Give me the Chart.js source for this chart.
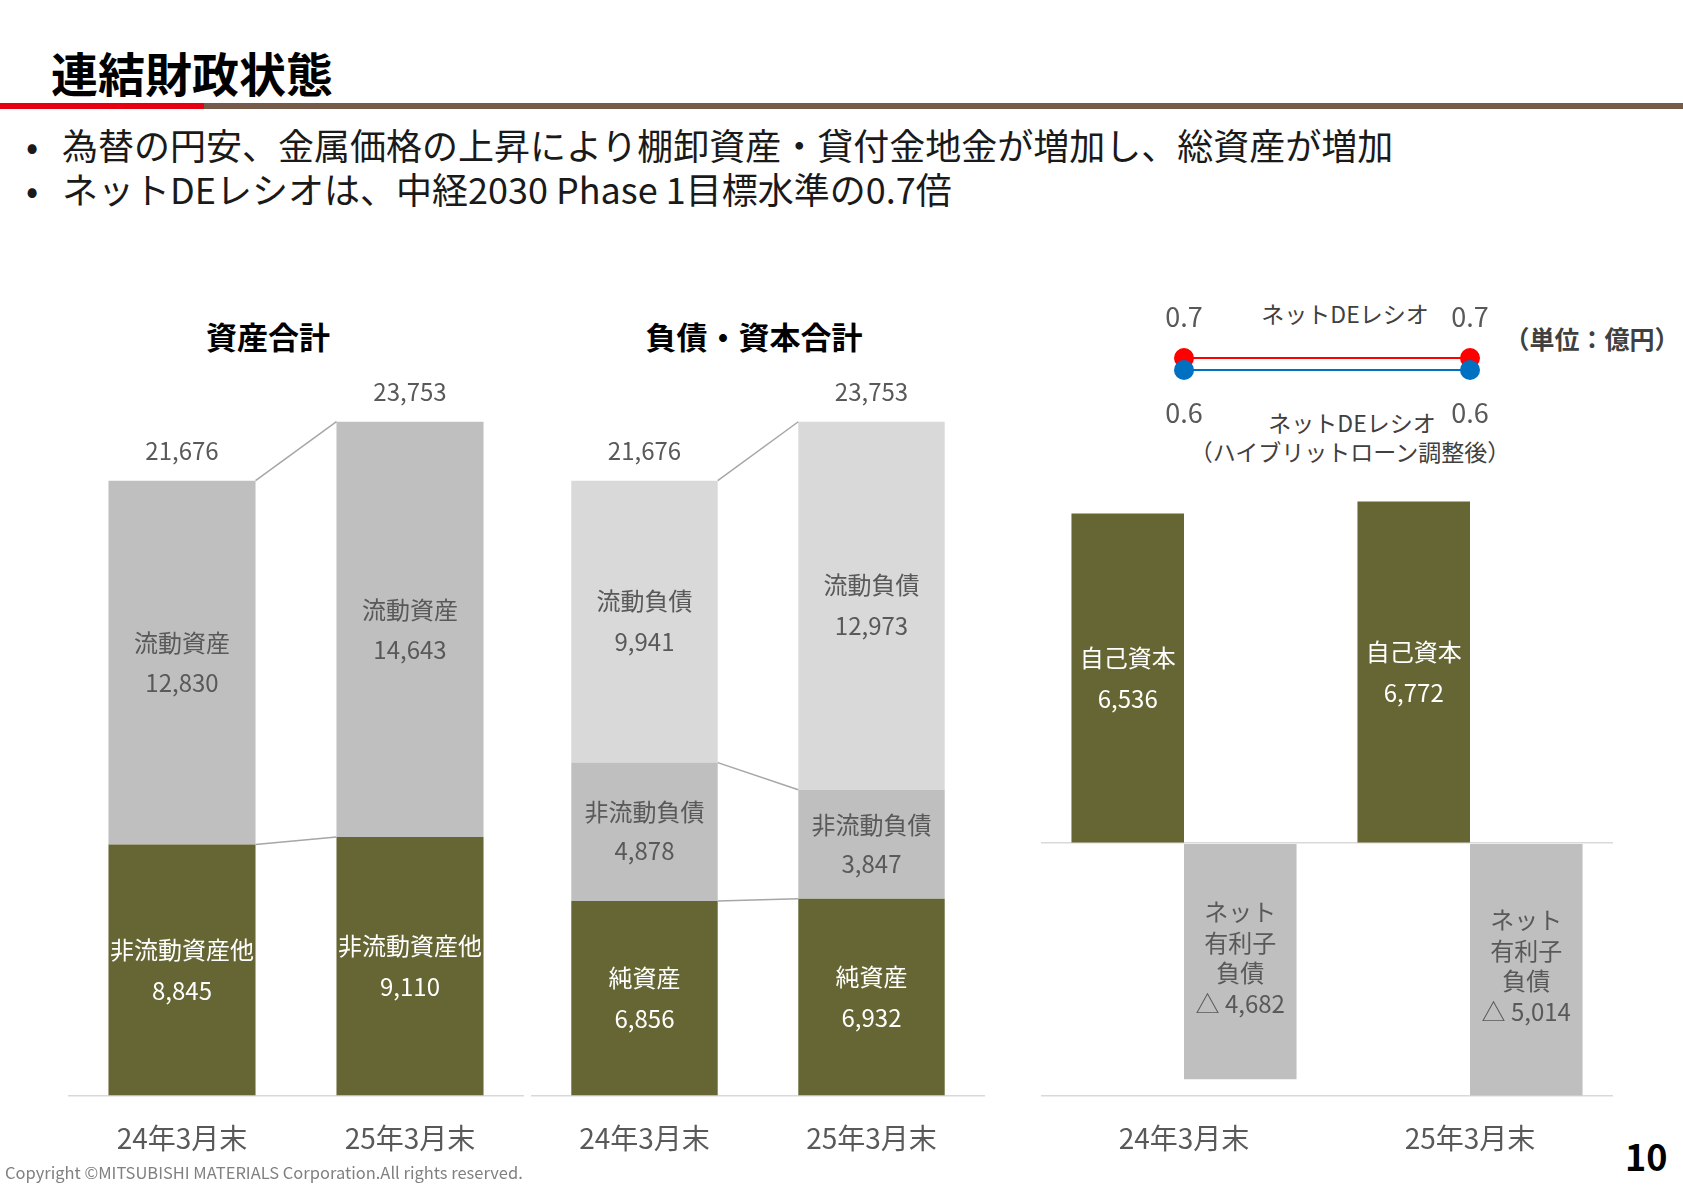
<!DOCTYPE html>
<html lang="ja">
<head>
<meta charset="UTF-8">
<title>連結財政状態</title>
<script src="https://cdn.jsdelivr.net/npm/chart.js@4.4.0/dist/chart.umd.min.js"></script>
<style>
  body { margin: 0; background: #fff; }
  .slide {
    position: relative;
    width: 1683px;
    height: 1190px;
    background: #fff;
    overflow: hidden;
    font-family: 'Noto Sans CJK JP', 'Noto Sans', sans-serif;
  }
  .t { position: absolute; white-space: nowrap; line-height: 1; }
  .c { transform: translate(-50%, -50%); }
  .box { position: absolute; }
  .title { left: 51px; top: 48px; font-size: 47px; font-weight: 700; color: #000; }
  .bar-red { position: absolute; left: 0; top: 103px; width: 204px; height: 6px; background: #e60012; }
  .bar-brown { position: absolute; left: 204px; top: 103px; width: 1479px; height: 6px; background: #765b4a; }
  .bullet { font-size: 36px; color: #1a1a1a; }
  .ptitle { font-size: 31px; font-weight: 700; color: #000; }
  .note { font-size: 23px; color: #404040; }
</style>
</head>
<body>
<div class="slide">
  <div class="t title">連結財政状態</div>
  <div class="bar-red"></div>
  <div class="bar-brown"></div>

  <div class="t bullet" style="left:26px; top:126px;">•</div>
  <div class="t bullet" style="left:62px; top:126px;">為替の円安、金属価格の上昇により棚卸資産・貸付金地金が増加し、総資産が増加</div>
  <div class="t bullet" style="left:26px; top:170px;">•</div>
  <div class="t bullet" style="left:62px; top:170px;">ネットDEレシオは、中経2030 Phase 1目標水準の0.7倍</div>

  <div class="t c ptitle" style="left:268px; top:335px;">資産合計</div>
  <div class="t c ptitle" style="left:754px; top:335px;">負債・資本合計</div>

  <div class="t c note" style="left:1345px; top:313px;">ネットDEレシオ</div>
  <div class="t c note" style="left:1352px; top:422px;">ネットDEレシオ</div>
  <div class="t c note" style="left:1350px; top:451px;">（ハイブリットローン調整後）</div>
  <div class="t c" style="left:1592px; top:338px; font-size:25px; font-weight:700; color:#404040;">（単位：億円）</div>

  <div class="box" style="left:68px; top:300px; width:456px; height:881px;"><canvas id="assets"></canvas></div>
  <div class="box" style="left:531px; top:300px; width:454px; height:881px;"><canvas id="liab"></canvas></div>
  <div class="box" style="left:1041px; top:480px; width:572px; height:701px;"><canvas id="equity"></canvas></div>
  <div class="box" style="left:1041px; top:270px; width:572px; height:180px;"><canvas id="ratio"></canvas></div>

  <div class="t" style="left:5px; top:1164px; font-size:16.5px; color:#808080;">Copyright ©MITSUBISHI MATERIALS Corporation.All rights reserved.</div>
  <div class="t" style="left:1625px; top:1137px; font-size:36px; font-weight:700; color:#000;">10</div>
</div>

<script>
  // データ（億円）
  const categories = ['24年3月末', '25年3月末'];
  const nonCurrentAssets = [8845, 9110];
  const currentAssets = [12830, 14643];
  const totalAssets = [21676, 23753];
  const netAssets = [6856, 6932];
  const nonCurrentLiab = [4878, 3847];
  const currentLiab = [9941, 12973];
  const totalLiabEquity = [21676, 23753];
  const equity = [6536, 6772];
  const netDebt = [-4682, -5014];
  const deRatio = [0.7, 0.7];
  const deRatioHybrid = [0.6, 0.6];

  const OLIVE = '#656633';
  const GRAY = '#bfbfbf';
  const LIGHT = '#d9d9d9';
  const TEXT = '#595959';
  const JP = "'Noto Sans CJK JP', 'Noto Sans', sans-serif";

  Chart.defaults.font.family = JP;
  Chart.defaults.animation = false;
  Chart.defaults.devicePixelRatio = 1;

  const fmt = v => v.toLocaleString('en-US');

  // 棒の中のラベル
  const segLabels = {
    id: 'segLabels',
    afterDatasetsDraw(chart) {
      const ctx = chart.ctx;
      ctx.save();
      ctx.textAlign = 'center';
      ctx.textBaseline = 'middle';
      chart.data.datasets.forEach((ds, di) => {
        if (!ds.names) return;
        const meta = chart.getDatasetMeta(di);
        ctx.fillStyle = ds.textColor;
        ctx.font = '24px ' + JP;
        meta.data.forEach((bar, i) => {
          const lines = ds.names.concat([ds.fmtValue(ds.data[i])]);
          const cy = (bar.y + bar.base) / 2 + (ds.shift || 0);
          const n = lines.length;
          lines.forEach((s, k) => ctx.fillText(s, bar.x, cy + (k - (n - 1) / 2) * ds.gap));
        });
      });
      ctx.restore();
    }
  };

  // 合計ラベル
  const totalLabels = {
    id: 'totalLabels',
    afterDatasetsDraw(chart, args, opts) {
      const ctx = chart.ctx;
      const meta = chart.getDatasetMeta(chart.data.datasets.length - 1);
      ctx.save();
      ctx.textAlign = 'center';
      ctx.textBaseline = 'middle';
      ctx.fillStyle = TEXT;
      ctx.font = '24px ' + JP;
      meta.data.forEach((bar, i) => ctx.fillText(fmt(opts.totals[i]), bar.x, bar.y - 30));
      ctx.restore();
    }
  };

  // 区分線
  const seriesLines = {
    id: 'seriesLines',
    afterDatasetsDraw(chart) {
      const ctx = chart.ctx;
      ctx.save();
      ctx.strokeStyle = '#a6a6a6';
      ctx.lineWidth = 1.5;
      chart.data.datasets.forEach((ds, di) => {
        const [a, b] = chart.getDatasetMeta(di).data;
        ctx.beginPath();
        ctx.moveTo(a.x + a.width / 2, a.y);
        ctx.lineTo(b.x - b.width / 2, b.y);
        ctx.stroke();
      });
      ctx.restore();
    }
  };

  const xAxis = {
    stacked: true,
    grid: { display: false, drawTicks: false },
    border: { display: true, color: LIGHT, width: 1.5 },
    ticks: { color: TEXT, font: { size: 28 }, padding: 26 }
  };

  function stackedChart(id, datasets, totals) {
    new Chart(document.getElementById(id), {
      type: 'bar',
      data: { labels: categories, datasets },
      options: {
        responsive: true,
        maintainAspectRatio: false,
        layout: { padding: { top: 58, bottom: 0, left: 0, right: 0 } },
        datasets: { bar: { categoryPercentage: 1, barPercentage: 0.645 } },
        scales: {
          x: xAxis,
          y: { stacked: true, display: false, min: 0, max: 26000 }
        },
        plugins: { legend: { display: false }, tooltip: { enabled: false }, totalLabels: { totals } }
      },
      plugins: [seriesLines, segLabels, totalLabels]
    });
  }

  stackedChart('assets', [
    { data: nonCurrentAssets, backgroundColor: OLIVE, names: ['非流動資産他'], textColor: '#fff', gap: 41, fmtValue: fmt },
    { data: currentAssets, backgroundColor: GRAY, names: ['流動資産'], textColor: TEXT, gap: 40, fmtValue: fmt }
  ], totalAssets);

  stackedChart('liab', [
    { data: netAssets, backgroundColor: OLIVE, names: ['純資産'], textColor: '#fff', gap: 41, fmtValue: fmt },
    { data: nonCurrentLiab, backgroundColor: GRAY, names: ['非流動負債'], textColor: TEXT, gap: 39, fmtValue: fmt },
    { data: currentLiab, backgroundColor: LIGHT, names: ['流動負債'], textColor: TEXT, gap: 41, fmtValue: fmt }
  ], totalLiabEquity);

  // 自己資本とネット有利子負債
  new Chart(document.getElementById('equity'), {
    type: 'bar',
    data: {
      labels: categories,
      datasets: [
        { data: equity, backgroundColor: OLIVE, names: ['自己資本'], textColor: '#fff', gap: 41, fmtValue: fmt },
        { data: netDebt, backgroundColor: GRAY, names: ['ネット', '有利子', '負債'], textColor: TEXT, gap: 30.5, shift: -4,
          fmtValue: v => '△ ' + fmt(Math.abs(v)) }
      ]
    },
    options: {
      responsive: true,
      maintainAspectRatio: false,
      layout: { padding: { top: 10, bottom: 0, left: 0, right: 0 } },
      datasets: { bar: { categoryPercentage: 0.787, barPercentage: 1 } },
      scales: {
        x: Object.assign({}, xAxis, { stacked: false }),
        y: {
          min: -5000, max: 7000,
          ticks: { display: false, stepSize: 1000 },
          border: { display: false },
          grid: { drawTicks: false, lineWidth: 1.5, color: c => c.tick && c.tick.value === 0 ? LIGHT : 'rgba(0,0,0,0)' },
          afterFit: s => { s.width = 0; }
        }
      },
      plugins: { legend: { display: false }, tooltip: { enabled: false } }
    },
    plugins: [segLabels]
  });

  // ネットDEレシオ
  const ratioLabels = {
    id: 'ratioLabels',
    afterDatasetsDraw(chart) {
      const ctx = chart.ctx;
      ctx.save();
      ctx.textAlign = 'center';
      ctx.textBaseline = 'middle';
      ctx.fillStyle = TEXT;
      ctx.font = '27px ' + JP;
      chart.data.datasets.forEach((ds, di) => {
        chart.getDatasetMeta(di).data.forEach((pt, i) => {
          ctx.fillText(ds.data[i].toFixed(1), pt.x, pt.y + ds.labelOffset);
        });
      });
      ctx.restore();
    }
  };

  new Chart(document.getElementById('ratio'), {
    type: 'line',
    data: {
      labels: categories,
      datasets: [
        { data: deRatio, borderColor: '#ff0000', backgroundColor: '#ff0000', borderWidth: 2,
          pointRadius: 10, pointBorderWidth: 0, order: 1, labelOffset: -41 },
        { data: deRatioHybrid, borderColor: '#0070c0', backgroundColor: '#0070c0', borderWidth: 2,
          pointRadius: 10, pointBorderWidth: 0, order: 0, labelOffset: 43 }
      ]
    },
    options: {
      responsive: true,
      maintainAspectRatio: false,
      layout: { autoPadding: false, padding: { top: 28, bottom: 32, left: 0, right: 0 } },
      scales: {
        x: { display: false, offset: true },
        y: { display: false, min: 0.2, max: 1.2 }
      },
      plugins: { legend: { display: false }, tooltip: { enabled: false } }
    },
    plugins: [ratioLabels]
  });
</script>
</body>
</html>
